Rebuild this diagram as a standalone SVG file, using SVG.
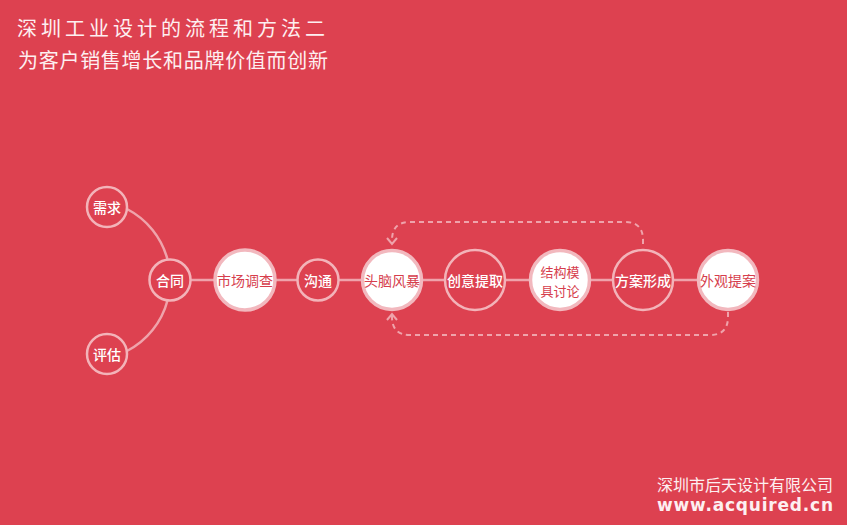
<svg xmlns="http://www.w3.org/2000/svg" width="847" height="525" viewBox="0 0 847 525">
<defs>
<style>
.bg{fill:#DD4150}
.ln{fill:none;stroke:#EFA3AB;stroke-width:2.5}
.dash{fill:none;stroke:#EFA3AB;stroke-width:2;stroke-dasharray:5 4}
.oc{fill:#DD4150;stroke:#F3B3B9;stroke-width:2.5}
.wc{fill:#FFFFFF;stroke:#F2B8BE;stroke-width:3.5}
.t{font-family:"Noto Sans CJK SC","Noto Sans",sans-serif;font-size:14px;text-anchor:middle;dominant-baseline:central}
.tw{fill:#FFFFFF;font-weight:500}
.tr{fill:#D63E4D}
.small{font-size:13px}
.title{font-family:"Noto Sans CJK SC","Noto Sans",sans-serif;font-size:20px;fill:#FDEFF1}
</style>
<marker id="chev" viewBox="-8 -6 10 12" refX="0" refY="0" markerWidth="10" markerHeight="12" markerUnits="userSpaceOnUse" orient="auto">
<path d="M-6,-5 L0,0 L-6,5" fill="none" stroke="#EFA3AB" stroke-width="2"/>
</marker>
</defs>
<rect class="bg" x="0" y="0" width="847" height="525"/>
<text class="title" x="17" y="36" textLength="308" lengthAdjust="spacing">深圳工业设计的流程和方法二</text>
<text class="title" x="18" y="68" textLength="310" lengthAdjust="spacing">为客户销售增长和品牌价值而创新</text>
<g id="connectors">
<path class="ln" d="M127,209 A80,80 0 0 1 167.5,259.5"/>
<path class="ln" d="M127,351 A80,80 0 0 0 167.5,300.5"/>
<line class="ln" x1="190" y1="280" x2="700" y2="280"/>
<path class="dash" d="M643,244 V240 Q643,222 625,222 H410 Q392,222 392,240 V244" marker-end="url(#chev)"/>
<path class="dash" d="M728,312 V317 Q728,335 710,335 H410 Q392,335 392,317 V314" marker-end="url(#chev)"/>
</g>
<g id="n-xuqiu"><circle class="oc" cx="107" cy="207" r="20"/><text class="t tw" x="107" y="207">需求</text></g>
<g id="n-hetong"><circle class="oc" cx="170" cy="280" r="20.5"/><text class="t tw" x="170" y="280">合同</text></g>
<g id="n-pinggu"><circle class="oc" cx="107" cy="354" r="20"/><text class="t tw" x="107" y="354">评估</text></g>
<g id="n-shichang"><circle class="wc" cx="245" cy="280" r="30"/><text class="t tr" x="245" y="280">市场调查</text></g>
<g id="n-goutong"><circle class="oc" cx="318" cy="280" r="20.5"/><text class="t tw" x="318" y="280">沟通</text></g>
<g id="n-tounao"><circle class="wc" cx="392" cy="280" r="29.5"/><text class="t tr" x="392" y="280">头脑风暴</text></g>
<g id="n-chuangyi"><circle class="oc" cx="475" cy="280" r="30"/><text class="t tw" x="475" y="280">创意提取</text></g>
<g id="n-jiegou"><circle class="wc" cx="560" cy="280" r="29.5"/><text class="t tr small"><tspan x="560" y="270.5">结构模</tspan><tspan x="560" y="290">具讨论</tspan></text></g>
<g id="n-fangan"><circle class="oc" cx="643" cy="280" r="30"/><text class="t tw" x="643" y="280">方案形成</text></g>
<g id="n-waiguan"><circle class="wc" cx="728" cy="280" r="29.5"/><text class="t tr" x="728" y="280">外观提案</text></g>
<text x="657" y="491" font-family="Noto Sans CJK SC, Noto Sans, sans-serif" font-size="16" fill="#FDEFF1" textLength="176" lengthAdjust="spacing">深圳市后天设计有限公司</text>
<text x="657" y="511" font-family="DejaVu Sans, sans-serif" font-weight="bold" font-size="17" fill="#FDEFF1" textLength="176" lengthAdjust="spacing">www.acquired.cn</text>
</svg>
